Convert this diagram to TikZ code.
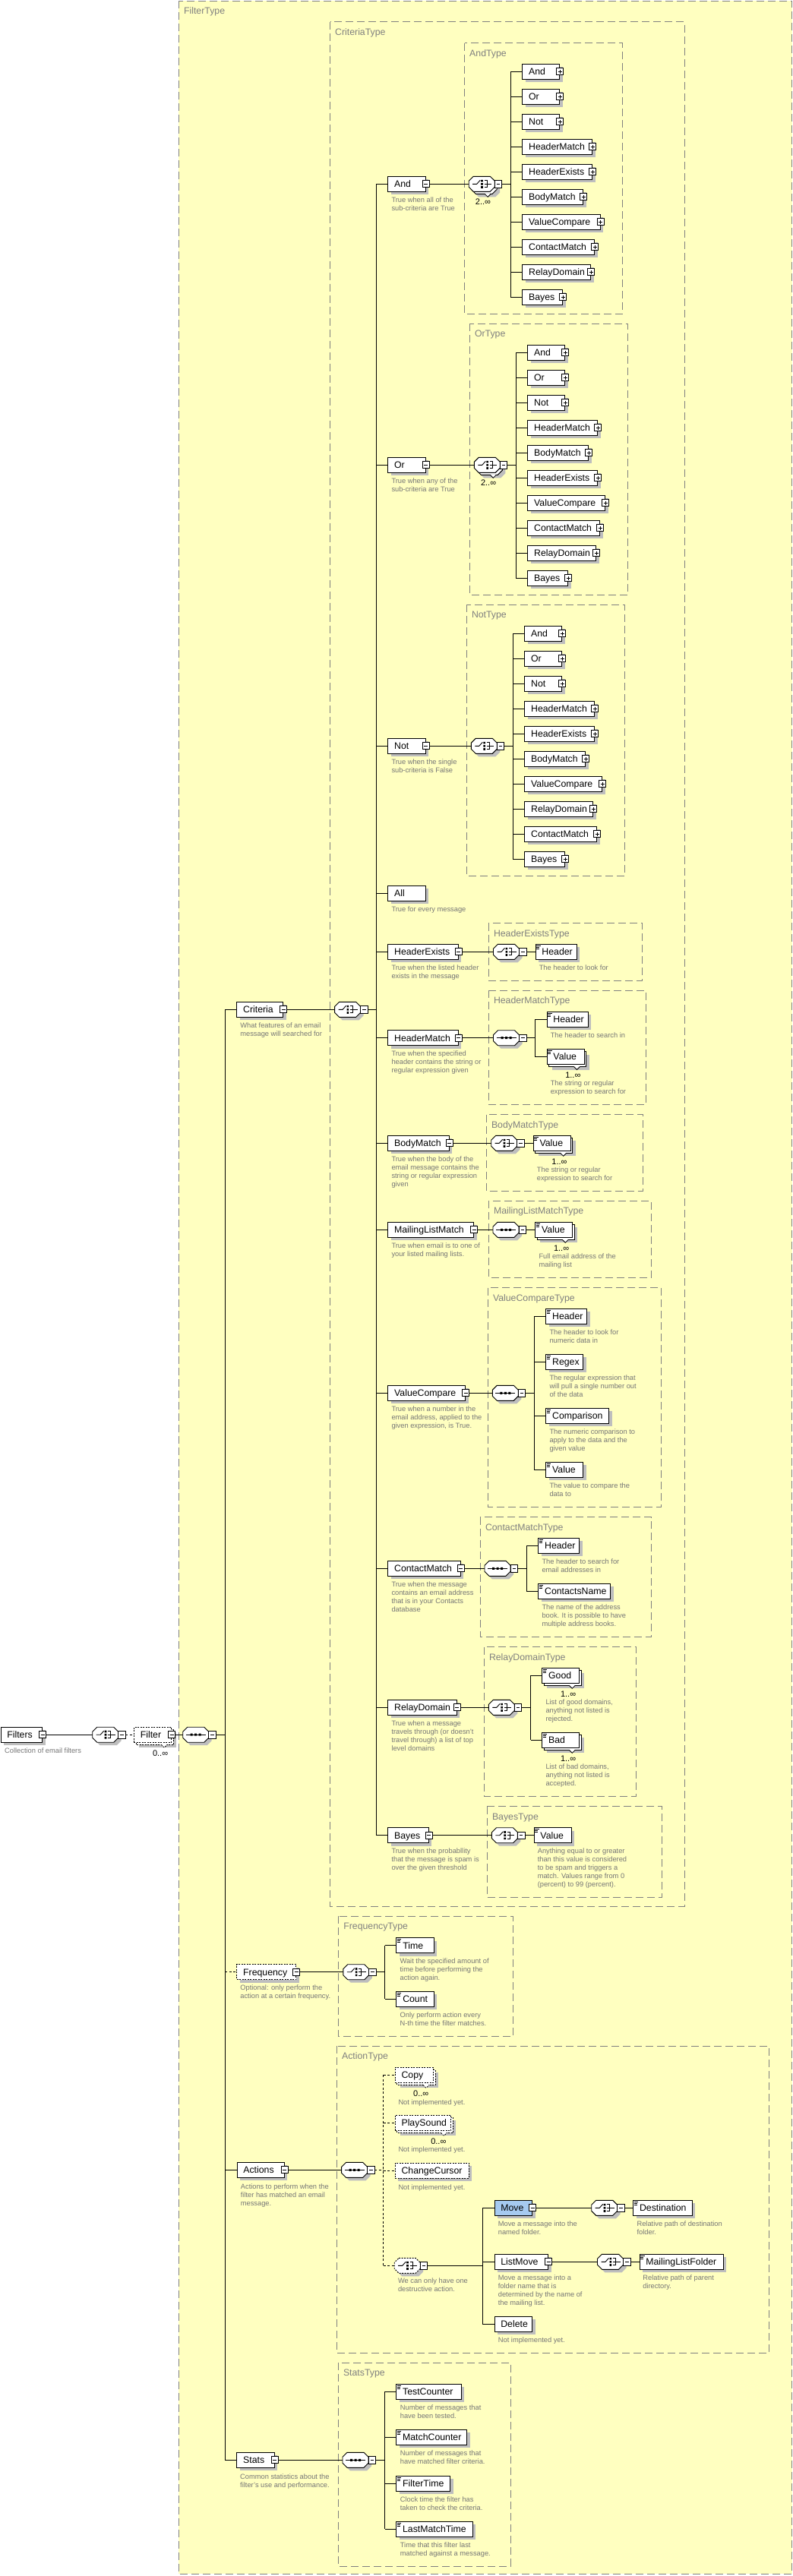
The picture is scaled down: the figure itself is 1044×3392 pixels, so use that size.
\documentclass[tikz,border=0pt]{standalone}
\usepackage{fontspec}
\setmainfont{Liberation Sans}
\usetikzlibrary{shadows}
\definecolor{bgy}{RGB}{255,255,192}
\definecolor{shg}{RGB}{190,190,190}
\definecolor{tgray}{RGB}{128,128,128}
\definecolor{dgray}{RGB}{118,118,118}
\definecolor{selblue}{RGB}{166,202,240}
\newcount\dcnt
\newcommand\elfont{\fontsize{12.3}{14}\selectfont}
\tikzset{
  elbase/.style={draw=black, fill=white, line width=0.9pt, minimum height=20pt,
    inner xsep=0pt, inner ysep=0pt, text height=9.5pt, text depth=0.9pt,
    align=left, font=\elfont, anchor=west},
  shad/.style={drop shadow={shadow xshift=4pt, shadow yshift=-4pt, fill=shg, opacity=1}},
  optl/.style={dash pattern=on 2pt off 1.5pt},
  sel/.style={fill=selblue},
  conn/.style={line width=0.9pt, draw=black},
  optconn/.style={conn, dash pattern=on 3pt off 2.5pt},
  typebox/.style={draw=tgray, line width=1pt, dash pattern=on 10pt off 5pt},
  typelabel/.style={anchor=base west, inner sep=0pt, text=tgray, font=\elfont},
  descn/.style={anchor=north west, inner sep=0pt, align=left, text=dgray, font=\fontsize{9.3}{11}\selectfont},
  occn/.style={anchor=base, inner sep=0pt, font=\fontsize{11}{12}\selectfont},
  pmbox/.style={draw=black, fill=white, line width=0.8pt},
}
% element: [opts]{name}{left}{cy}{width}{label}
\newcommand\xel[6][]{%
  \pgfmathsetlengthmacro\elw{#5}%
  \node[elbase, shad, #1, minimum width=\elw, text width=\elw] (#2) at (#3,#4) {\hspace*{8.4pt}#6};}
% multiple-occurrence element
\newcommand\xelm[6][]{%
  \pgfmathsetlengthmacro\elw{#5}%
  \fill[shg] (#3+7,#4-3) rectangle ++(#5,20);
  \draw[line width=0.9pt, fill=white, #1] (#3+3,#4-7) rectangle ++(#5,20);
  \node[elbase, #1, minimum width=\elw, text width=\elw] (#2) at (#3,#4) {\hspace*{8.4pt}#6};
  \path[fill=white] (#3+#5-13,#4+12.5) -- (#3+#5-5,#4+12.5) -- (#3+#5-9,#4+17) -- cycle;
  \draw[line width=0.8pt, #1] (#3+#5-13,#4+13) -- (#3+#5-9,#4+17) -- (#3+#5-5,#4+13);}
\newcommand\xmb[1]{%
  \draw[pmbox] ([xshift=-4.5pt,yshift=-4.5pt]#1.east) rectangle ([xshift=4.5pt,yshift=4.5pt]#1.east);
  \draw[line width=0.8pt] ([xshift=-2.5pt]#1.east) -- ([xshift=2.5pt]#1.east);
  \coordinate (#1-m) at ([xshift=4.5pt]#1.east);}
\newcommand\xpb[1]{%
  \xmb{#1}%
  \draw[line width=0.8pt] ([yshift=-2.5pt]#1.east) -- ([yshift=2.5pt]#1.east);}
\newcommand\xleaf[1]{%
  \draw[line width=0.7pt] ([xshift=1.5pt,yshift=-2pt]#1.north west) -- ++(5.5,0)
     ([xshift=1.5pt,yshift=-4pt]#1.north west) -- ++(4,0)
     ([xshift=1.5pt,yshift=-6pt]#1.north west) -- ++(4,0);}
\newcommand\xocc[3]{\global\advance\dcnt by 1 \edef\dnm{oc\the\dcnt}%
  \node[occn] (\dnm) at (#1,#2) {#3};}
\newcommand\xdesc[3]{\global\advance\dcnt by 1 \edef\dnm{de\the\dcnt}%
  \node[descn] (\dnm) at (#1,#2-5) {\rule{0pt}{8pt}#3};}
\newcommand\xocto[3]{\path[#1] (#2+6,#3-10) -- (#2+28,#3-10) -- (#2+34,#3-4) -- (#2+34,#3+4) -- (#2+28,#3+10) -- (#2+6,#3+10) -- (#2,#3+4) -- (#2,#3-4) -- cycle;}
% compositor: [opts]{name}{left}{cy}{0 seq / 1 choice}{multi 0/1}
\newcommand\xcomp[6][]{%
  \ifnum#6=1
    \xocto{fill=shg}{#3+7}{#4+7}%
    \xocto{draw=black, line width=0.9pt, fill=white, #1}{#3+3}{#4+3}%
  \else
    \xocto{fill=shg}{#3+4}{#4+4}%
  \fi
  \xocto{draw=black, line width=0.9pt, fill=white, #1}{#3}{#4}%
  \node[inner sep=0pt, minimum width=34pt, minimum height=20pt, anchor=west] (#2) at (#3,#4) {};
  \ifnum#5=0
    \draw[line width=0.9pt] (#3+4,#4) -- (#3+30,#4);
    \fill (#3+10,#4-1.5) rectangle ++(3,3) (#3+15.5,#4-1.5) rectangle ++(3,3) (#3+21,#4-1.5) rectangle ++(3,3);
  \else
    \draw[line width=0.9pt] (#3+5,#4) -- (#3+10.5,#4) -- (#3+15,#4-5);
    \fill (#3+16,#4-5.5) rectangle ++(2.6,2.6) (#3+16,#4-1.3) rectangle ++(2.6,2.6) (#3+16,#4+2.9) rectangle ++(2.6,2.6);
    \draw[line width=0.9pt] (#3+20.5,#4-4.5) -- (#3+24,#4-4.5) -- (#3+24,#4+4.5) -- (#3+20.5,#4+4.5) (#3+20.5,#4) -- (#3+30,#4);
  \fi
  \draw[pmbox] (#3+34,#4-4.75) rectangle ++(9.5,9.5);
  \draw[line width=0.8pt] (#3+36.5,#4) -- ++(4.5,0);
  \coordinate (#2-m) at (#3+43.5,#4);
  \ifnum#6=1
    \path[fill=white] (#3+21,#4+12.5) -- (#3+29,#4+12.5) -- (#3+25,#4+17) -- cycle;
    \draw[line width=0.8pt] (#3+21,#4+13) -- (#3+25,#4+17) -- (#3+29,#4+13);
    \xocc{#3+18.8}{#4+26.7}{2..∞}%
  \fi}
\newcommand\xtbox[6]{%
  \draw[typebox] (#2,#3) rectangle (#4,#5);
  \node[typelabel] (#1) at (#2+6.5,#3+17.3) {#6};}

\begin{document}
\begin{tikzpicture}[x=1pt,y=-1pt]
\useasboundingbox (0,0) rectangle (1044,3392);
\fill[bgy] (235.4,1) rectangle (1042.5,3389.3);
% ---------- type boxes
\xtbox{tFilter}{235.4}{1}{1042.5}{3389.3}{FilterType}
\xtbox{tCrit}{434.5}{28.7}{901}{2510}{CriteriaType}
\xtbox{tAnd}{611.5}{56.7}{819.3}{413.3}{AndType}
\xtbox{tOr}{618.3}{426}{826.3}{783.3}{OrType}
\xtbox{tNot}{614.3}{796}{822.3}{1153.3}{NotType}
\xtbox{tHE}{643.3}{1215.7}{845.6}{1291.3}{HeaderExistsType}
\xtbox{tHM}{643.3}{1304.3}{850.6}{1454.3}{HeaderMatchType}
\xtbox{tBM}{640.3}{1467.7}{846.7}{1568.3}{BodyMatchType}
\xtbox{tML}{643.3}{1581.3}{857.3}{1682.7}{MailingListMatchType}
\xtbox{tVC}{642.3}{1695.7}{870.7}{1984.3}{ValueCompareType}
\xtbox{tCM}{632.3}{1997.7}{857.7}{2155.3}{ContactMatchType}
\xtbox{tRD}{637.3}{2168.7}{837.3}{2365.3}{RelayDomainType}
\xtbox{tBY}{641.3}{2378.7}{871.7}{2498.3}{BayesType}
\xtbox{tFQ}{445.6}{2523.3}{675.6}{2681.7}{FrequencyType}
\xtbox{tAC}{443.4}{2694.3}{1012.8}{3098.3}{ActionType}
\xtbox{tST}{445.3}{3111.3}{672.3}{3379.3}{StatsType}

% ---------- root
\xel{Filters}{0.5}{2284.2}{54.8}{Filters} \xmb{Filters}
\xdesc{6}{2305.3}{Collection of email filters}
\xcomp{fComp}{121.7}{2284.2}{1}{0}
\xelm[optl]{Filter}{176}{2284.2}{49.3}{Filter} \xmb{Filter}
\xocc{211.1}{2312.2}{0..∞}
\xcomp{ftSeq}{240.7}{2284.2}{0}{0}
\coordinate (ftBus) at (296.3,2284.2);

% ---------- Criteria
\xel{Criteria}{311.3}{1329.3}{61.1}{Criteria} \xmb{Criteria}
\xdesc{316.2}{1350.7}{What features of an email\\message will searched for}
\xcomp{cComp}{440.6}{1329.3}{1}{0}
\coordinate (cBus) at (495.5,1329.3);
\xel{cAnd}{510.3}{242.3}{49.4}{And} \xmb{cAnd}
\xdesc{515.3}{263.7}{True when all of the\\sub-criteria are True}
\xel{cOr}{510.3}{612.3}{49.4}{Or} \xmb{cOr}
\xdesc{515.3}{633.7}{True when any of the\\sub-criteria are True}
\xel{cNot}{510.3}{982.3}{49.4}{Not} \xmb{cNot}
\xdesc{515.3}{1003.7}{True when the single\\sub-criteria is False}
\xel{cAll}{510.3}{1176.3}{49.4}{All}
\xdesc{515.3}{1197.7}{True for every message}
\xel{cHE}{510.3}{1253.3}{92.4}{HeaderExists} \xmb{cHE}
\xdesc{515.3}{1274.7}{True when the listed header\\exists in the message}
\xel{cHM}{510.3}{1366.7}{92.4}{HeaderMatch} \xmb{cHM}
\xdesc{515.3}{1387.7}{True when the specified\\header contains the string or\\regular expression given}
\xel{cBM}{510.3}{1505.3}{80.2}{BodyMatch} \xmb{cBM}
\xdesc{515.3}{1526.7}{True when the body of the\\email message contains the\\string or regular expression\\given}
\xel{cML}{510.3}{1619.3}{113}{MailingListMatch} \xmb{cML}
\xdesc{515.3}{1640.7}{True when email is to one of\\your listed mailing lists.}
\xel{cVC}{510.3}{1834.3}{102}{ValueCompare} \xmb{cVC}
\xdesc{515.3}{1855.7}{True when a number in the\\email address, applied to the\\given expression, is True.}
\xel{cCM}{510.3}{2065.3}{95.2}{ContactMatch} \xmb{cCM}
\xdesc{515.3}{2086.7}{True when the message\\contains an email address\\that is in your Contacts\\database}
\xel{cRD}{510.3}{2248.3}{90.4}{RelayDomain} \xmb{cRD}
\xdesc{515.3}{2269.7}{True when a message\\travels through (or doesn't\\travel through) a list of top\\level domains}
\xel{cBY}{510.3}{2416.7}{53.4}{Bayes} \xmb{cBY}
\xdesc{515.3}{2437.7}{True when the probabllity\\that the message is spam is\\over the given threshold}

% ---------- AndType
\xcomp{aComp}{617.2}{242.3}{1}{1}
\coordinate (aBus) at (672.4,242.3);
\foreach \n/\lab/\w [count=\i from 0] in {aAnd/And/49, aOr/Or/49, aNot/Not/49, aHM/HeaderMatch/91.8, aHE/HeaderExists/91.8, aBM/BodyMatch/80, aVC/ValueCompare/102.2, aCM/ContactMatch/94.9, aRD/RelayDomain/89.9, aBY/Bayes/52.8}{
  \xel{\n}{687.3}{94.3+33*\i}{\w}{\lab} \xpb{\n}
  \draw[conn] (aBus |- \n.west) -- (\n.west);
}
% ---------- OrType
\xcomp{oComp}{624.3}{612.3}{1}{1}
\coordinate (oBus) at (679.3,612.3);
\foreach \n/\lab/\w [count=\i from 0] in {oAnd/And/49, oOr/Or/49, oNot/Not/49, oHM/HeaderMatch/92, oBM/BodyMatch/80, oHE/HeaderExists/92, oVC/ValueCompare/102, oCM/ContactMatch/95, oRD/RelayDomain/90, oBY/Bayes/53}{
  \xel{\n}{694.3}{464.3+33*\i}{\w}{\lab} \xpb{\n}
  \draw[conn] (oBus |- \n.west) -- (\n.west);
}
% ---------- NotType
\xcomp{nComp}{620.3}{982.3}{1}{0}
\coordinate (nBus) at (675.3,982.3);
\foreach \n/\lab/\w [count=\i from 0] in {nAnd/And/49, nOr/Or/49, nNot/Not/49, nHM/HeaderMatch/92, nHE/HeaderExists/92, nBM/BodyMatch/80, nVC/ValueCompare/102, nRD/RelayDomain/90, nCM/ContactMatch/95, nBY/Bayes/53}{
  \xel{\n}{690.3}{834.3+33*\i}{\w}{\lab} \xpb{\n}
  \draw[conn] (nBus |- \n.west) -- (\n.west);
}

% ---------- HeaderExistsType
\xcomp{heComp}{649.5}{1253.3}{1}{0}
\xel{heH}{704.6}{1253.3}{53.9}{Header} \xleaf{heH}
\xdesc{709.6}{1274.7}{The header to look for}
% ---------- HeaderMatchType
\xcomp{hmComp}{649.5}{1366.7}{0}{0}
\coordinate (hmBus) at (704.5,1366.7);
\xel{hmH}{719.6}{1342.3}{53.9}{Header} \xleaf{hmH}
\xdesc{724.6}{1363.7}{The header to search in}
\xelm{hmV}{719.6}{1391.5}{48.9}{Value} \xleaf{hmV}
\xocc{754.3}{1419.5}{1..∞}
\xdesc{724.6}{1426.7}{The string or regular\\expression to search for}
% ---------- BodyMatchType
\xcomp{bmComp}{646.7}{1505.3}{1}{0}
\xelm{bmV}{701.7}{1505.3}{49}{Value} \xleaf{bmV}
\xocc{736.5}{1533.3}{1..∞}
\xdesc{706.7}{1540.7}{The string or regular\\expression to search for}
% ---------- MailingListMatchType
\xcomp{mlComp}{649}{1619.3}{0}{0}
\xelm{mlV}{704.3}{1619.3}{49}{Value} \xleaf{mlV}
\xocc{739.1}{1647.3}{1..∞}
\xdesc{709.3}{1654.3}{Full email address of the\\mailing list}
% ---------- ValueCompareType
\xcomp{vcComp}{648.3}{1834.3}{0}{0}
\coordinate (vcBus) at (703.3,1834.3);
\xel{vcH}{718.3}{1733.3}{54}{Header} \xleaf{vcH}
\xdesc{723.3}{1754.3}{The header to look for\\numeric data in}
\xel{vcR}{718.3}{1793.3}{49}{Regex} \xleaf{vcR}
\xdesc{723.3}{1814.3}{The regular expression that\\will pull a single number out\\of the data}
\xel{vcC}{718.3}{1864.3}{83}{Comparison} \xleaf{vcC}
\xdesc{723.3}{1885.7}{The numeric comparison to\\apply to the data and the\\given value}
\xel{vcV}{718.3}{1935.3}{49}{Value} \xleaf{vcV}
\xdesc{723.3}{1956.7}{The value to compare the\\data to}
% ---------- ContactMatchType
\xcomp{cmComp}{638}{2065.3}{0}{0}
\coordinate (cmBus) at (693.3,2065.3);
\xel{cmH}{708.3}{2035.3}{54}{Header} \xleaf{cmH}
\xdesc{713.3}{2056.7}{The header to search for\\email addresses in}
\xel{cmN}{708.3}{2095.3}{95}{ContactsName} \xleaf{cmN}
\xdesc{713.3}{2116.7}{The name of the address\\book. It is possible to have\\multiple address books.}
% ---------- RelayDomainType
\xcomp{rdComp}{643.3}{2248.3}{1}{0}
\coordinate (rdBus) at (698.7,2248.3);
\xelm{rdG}{713.3}{2206.3}{49}{Good} \xleaf{rdG}
\xocc{748.1}{2234.3}{1..∞}
\xdesc{718.3}{2241.7}{List of good domains,\\anything not listed is\\rejected.}
\xelm{rdB}{713.3}{2291.3}{49}{Bad} \xleaf{rdB}
\xocc{748.1}{2319.3}{1..∞}
\xdesc{718.3}{2326.7}{List of bad domains,\\anything not listed is\\accepted.}
% ---------- BayesType
\xcomp{byComp}{647.4}{2416.7}{1}{0}
\xel{byV}{702.6}{2416.7}{49}{Value} \xleaf{byV}
\xdesc{707.6}{2437.7}{Anything equal to or greater\\than this value is considered\\to be spam and triggers a\\match. Values range from 0\\(percent) to 99 (percent).}

% ---------- Frequency
\xel[optl]{Freq}{311.3}{2596.7}{77.9}{Frequency} \xmb{Freq}
\xdesc{316.2}{2617.7}{Optional: only perform the\\action at a certain frequency.}
\xcomp{fqComp}{451.8}{2596.7}{1}{0}
\coordinate (fqBus) at (506.5,2596.7);
\xel{fqT}{521.4}{2561.7}{49.4}{Time} \xleaf{fqT}
\xdesc{526.4}{2582.7}{Wait the specified amount of\\time before performing the\\action again.}
\xel{fqC}{521.4}{2632.3}{49.4}{Count} \xleaf{fqC}
\xdesc{526.4}{2653.7}{Only perform action every\\N-th time the filter matches.}

% ---------- Actions
\xel{Actions}{311.5}{2857.3}{62}{Actions} \xmb{Actions}
\xdesc{316.7}{2879}{Actions to perform when the\\filter has matched an email\\message.}
\xcomp{acComp}{449.6}{2857.3}{0}{0}
\coordinate (acBus) at (504.6,2857.3);
\xelm[optl]{acCopy}{519.7}{2732.3}{50.3}{Copy}
\xocc{554.2}{2760.3}{0..∞}
\xdesc{524.3}{2768}{Not implemented yet.}
\xelm[optl]{acPlay}{519.7}{2795.3}{73.7}{PlaySound}
\xocc{577.3}{2823.3}{0..∞}
\xdesc{524.3}{2830.7}{Not implemented yet.}
\xel[optl]{acCur}{519.7}{2858.3}{97.1}{ChangeCursor}
\xdesc{524.3}{2880}{Not implemented yet.}
\xcomp[optl]{chComp}{519.2}{2983.3}{1}{0}
\xdesc{523.8}{3003.7}{We can only have one\\destructive action.}
\coordinate (chBus) at (635.4,2983.3);
\xel[sel]{Move}{650.5}{2907.3}{49.8}{Move} \xmb{Move}
\xdesc{655.7}{2928.7}{Move a message into the\\named folder.}
\xcomp{mvComp}{778.7}{2907.3}{1}{0}
\xel{mvD}{833.2}{2907.3}{77.4}{Destination} \xleaf{mvD}
\xdesc{838.4}{2928.7}{Relative path of destination\\folder.}
\xel{ListMove}{650.5}{2978.3}{70.6}{ListMove} \xmb{ListMove}
\xdesc{655.7}{2999.7}{Move a message into a\\folder name that is\\determined by the name of\\the mailing list.}
\xcomp{lmComp}{786.5}{2978.3}{1}{0}
\xel{lmF}{841.5}{2978.3}{110.1}{MailingListFolder} \xleaf{lmF}
\xdesc{846.2}{2999.7}{Relative path of parent\\directory.}
\xel{Delete}{650.5}{3060.3}{49.8}{Delete}
\xdesc{655.7}{3081.7}{Not implemented yet.}

% ---------- Stats
\xel{Stats}{311.3}{3239.3}{49.4}{Stats} \xmb{Stats}
\xdesc{316}{3261.7}{Common statistics about the\\filter's use and performance.}
\xcomp{stComp}{451}{3239.3}{0}{0}
\coordinate (stBus) at (506.7,3239.3);
\xel{stT}{521.3}{3149.3}{85.4}{TestCounter} \xleaf{stT}
\xdesc{526.7}{3170.7}{Number of messages that\\have been tested.}
\xel{stM}{521.3}{3209.3}{93}{MatchCounter} \xleaf{stM}
\xdesc{526.7}{3230.7}{Number of messages that\\have matched filter criteria.}
\xel{stF}{521.3}{3270.3}{71}{FilterTime} \xleaf{stF}
\xdesc{526.7}{3291.7}{Clock time the filter has\\taken to check the criteria.}
\xel{stL}{521.3}{3330.3}{100.4}{LastMatchTime} \xleaf{stL}
\xdesc{526.7}{3351.3}{Time that this filter last\\matched against a message.}

% ================= connectors
% root
\draw[conn] (Filters-m) -- (fComp.west);
\draw[optconn] (fComp-m) -- (Filter.west);
\draw[conn] (Filter-m) -- (ftSeq.west);
\draw[conn] (ftSeq-m) -- (ftBus);
\draw[conn] (ftBus |- Criteria.west) -- (ftBus |- Stats.west);
\draw[conn] (ftBus |- Criteria.west) -- (Criteria.west);
\draw[optconn] (ftBus |- Freq.west) -- (Freq.west);
\draw[conn] (ftBus |- Actions.west) -- (Actions.west);
\draw[conn] (ftBus |- Stats.west) -- (Stats.west);
% criteria
\draw[conn] (Criteria-m) -- (cComp.west);
\draw[conn] (cComp-m) -- (cBus);
\draw[conn] (cBus |- cAnd.west) -- (cBus |- cBY.west);
\foreach \n in {cAnd,cOr,cNot,cAll,cHE,cHM,cBM,cML,cVC,cCM,cRD,cBY}
  \draw[conn] (cBus |- \n.west) -- (\n.west);
% and / or / not
\draw[conn] (cAnd-m) -- (aComp.west);
\draw[conn] (aComp-m) -- (aBus);
\draw[conn] (aBus |- aAnd.west) -- (aBus |- aBY.west);
\draw[conn] (cOr-m) -- (oComp.west);
\draw[conn] (oComp-m) -- (oBus);
\draw[conn] (oBus |- oAnd.west) -- (oBus |- oBY.west);
\draw[conn] (cNot-m) -- (nComp.west);
\draw[conn] (nComp-m) -- (nBus);
\draw[conn] (nBus |- nAnd.west) -- (nBus |- nBY.west);
% header exists
\draw[conn] (cHE-m) -- (heComp.west);
\draw[conn] (heComp-m) -- (heH.west);
% header match
\draw[conn] (cHM-m) -- (hmComp.west);
\draw[conn] (hmComp-m) -- (hmBus);
\draw[conn] (hmBus |- hmH.west) -- (hmBus |- hmV.west);
\draw[conn] (hmBus |- hmH.west) -- (hmH.west);
\draw[conn] (hmBus |- hmV.west) -- (hmV.west);
% body match
\draw[conn] (cBM-m) -- (bmComp.west);
\draw[conn] (bmComp-m) -- (bmV.west);
% mailing list match
\draw[conn] (cML-m) -- (mlComp.west);
\draw[conn] (mlComp-m) -- (mlV.west);
% value compare
\draw[conn] (cVC-m) -- (vcComp.west);
\draw[conn] (vcComp-m) -- (vcBus);
\draw[conn] (vcBus |- vcH.west) -- (vcBus |- vcV.west);
\foreach \n in {vcH,vcR,vcC,vcV}
  \draw[conn] (vcBus |- \n.west) -- (\n.west);
% contact match
\draw[conn] (cCM-m) -- (cmComp.west);
\draw[conn] (cmComp-m) -- (cmBus);
\draw[conn] (cmBus |- cmH.west) -- (cmBus |- cmN.west);
\draw[conn] (cmBus |- cmH.west) -- (cmH.west);
\draw[conn] (cmBus |- cmN.west) -- (cmN.west);
% relay domain
\draw[conn] (cRD-m) -- (rdComp.west);
\draw[conn] (rdComp-m) -- (rdBus);
\draw[conn] (rdBus |- rdG.west) -- (rdBus |- rdB.west);
\draw[conn] (rdBus |- rdG.west) -- (rdG.west);
\draw[conn] (rdBus |- rdB.west) -- (rdB.west);
% bayes
\draw[conn] (cBY-m) -- (byComp.west);
\draw[conn] (byComp-m) -- (byV.west);
% frequency
\draw[conn] (Freq-m) -- (fqComp.west);
\draw[conn] (fqComp-m) -- (fqBus);
\draw[conn] (fqBus |- fqT.west) -- (fqBus |- fqC.west);
\draw[conn] (fqBus |- fqT.west) -- (fqT.west);
\draw[conn] (fqBus |- fqC.west) -- (fqC.west);
% actions
\draw[conn] (Actions-m) -- (acComp.west);
\draw[optconn] (acComp-m) -- (acBus);
\draw[optconn] (acBus |- acCopy.west) -- (acBus |- chComp.west);
\foreach \n in {acCopy,acPlay,acCur,chComp}
  \draw[optconn] (acBus |- \n.west) -- (\n.west);
\draw[conn] (chComp-m) -- (chBus);
\draw[conn] (chBus |- Move.west) -- (chBus |- Delete.west);
\foreach \n in {Move,ListMove,Delete}
  \draw[conn] (chBus |- \n.west) -- (\n.west);
\draw[conn] (Move-m) -- (mvComp.west);
\draw[conn] (mvComp-m) -- (mvD.west);
\draw[conn] (ListMove-m) -- (lmComp.west);
\draw[conn] (lmComp-m) -- (lmF.west);
% stats
\draw[conn] (Stats-m) -- (stComp.west);
\draw[conn] (stComp-m) -- (stBus);
\draw[conn] (stBus |- stT.west) -- (stBus |- stL.west);
\foreach \n in {stT,stM,stF,stL}
  \draw[conn] (stBus |- \n.west) -- (\n.west);
\end{tikzpicture}
\end{document}
